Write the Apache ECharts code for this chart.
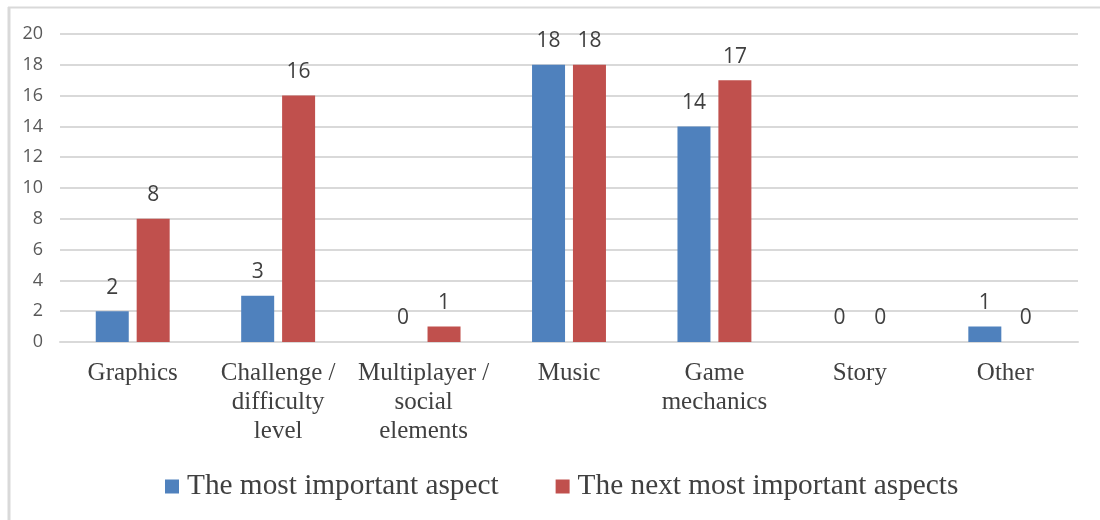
<!DOCTYPE html>
<html>
<head>
<meta charset="utf-8">
<script src="https://cdn.jsdelivr.net/npm/echarts@6/dist/echarts.min.js"></script>
<style>
  html, body { margin: 0; padding: 0; background: #fff; }
  #chart { width: 1100px; height: 520px; }
</style>
</head>
<body>
<div id="chart"></div>
<script>
// Survey answers: which aspects of a game matter most
const categories = [
  'Graphics',
  'Challenge /\ndifficulty\nlevel',
  'Multiplayer /\nsocial\nelements',
  'Music',
  'Game\nmechanics',
  'Story',
  'Other'
];
const mostImportant = [2, 3, 0, 18, 14, 0, 1];
const nextMostImportant = [8, 16, 1, 18, 17, 0, 0];
const seriesNames = ['The most important aspect', 'The next most important aspects'];
const yTicks = { min: 0, max: 20, interval: 2 };

const chart = echarts.init(document.getElementById('chart'), null, { renderer: 'canvas' });

const labelStyle = {
  show: true,
  position: 'top',
  distance: 13,
  fontFamily: 'Open Sans, Noto Sans, sans-serif',
  fontSize: 21,
  color: '#404040'
};

chart.setOption({
  animation: false,
  backgroundColor: '#ffffff',
  graphic: [
    // thin frame along the top and left edges
    { type: 'line', shape: { x1: 8, y1: 7.5, x2: 1100, y2: 7.5 }, style: { stroke: '#d9d9d9', lineWidth: 2 } },
    { type: 'line', shape: { x1: 9, y1: 7, x2: 9, y2: 520 }, style: { stroke: '#d9d9d9', lineWidth: 3 } }
  ],
  grid: { left: 60, right: 22, top: 34, bottom: 178, containLabel: false },
  legend: {
    data: seriesNames,
    bottom: 14,
    left: 160,
    itemWidth: 14,
    itemHeight: 14,
    itemGap: 57,
    icon: 'rect',
    textStyle: {
      fontFamily: 'Liberation Serif, serif',
      fontSize: 29.3,
      color: '#404040',
      padding: [0, 0, 0, 3]
    }
  },
  xAxis: {
    type: 'category',
    data: categories,
    axisLine: { show: true, lineStyle: { color: '#d9d9d9', width: 2 } },
    axisTick: { show: false },
    axisLabel: {
      interval: 0,
      margin: 17,
      fontFamily: 'Liberation Serif, serif',
      fontSize: 25,
      lineHeight: 29,
      color: '#404040'
    }
  },
  yAxis: {
    type: 'value',
    min: yTicks.min,
    max: yTicks.max,
    interval: yTicks.interval,
    axisLine: { show: false },
    axisTick: { show: false },
    splitLine: { lineStyle: { color: '#d9d9d9', width: 2 } },
    axisLabel: {
      margin: 17,
      fontFamily: 'Open Sans, Noto Sans, sans-serif',
      fontSize: 18,
      color: '#595959'
    }
  },
  series: [
    {
      name: seriesNames[0],
      type: 'bar',
      data: mostImportant,
      barWidth: 33,
      barGap: '24%',
      itemStyle: { color: '#4F81BD' },
      label: labelStyle
    },
    {
      name: seriesNames[1],
      type: 'bar',
      data: nextMostImportant,
      barWidth: 33,
      barGap: '24%',
      itemStyle: { color: '#C0504D' },
      label: labelStyle
    }
  ]
});
</script>
</body>
</html>
